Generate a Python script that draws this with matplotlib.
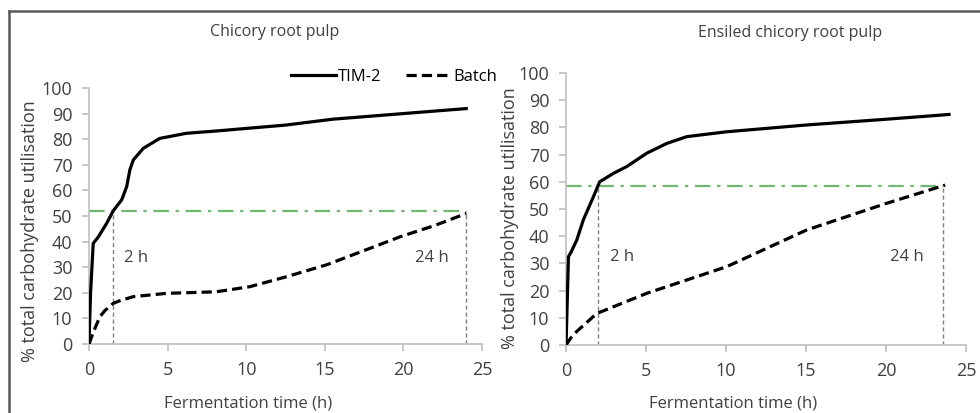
import matplotlib
matplotlib.use("Agg")
import matplotlib.pyplot as plt
from matplotlib.lines import Line2D

plt.rcParams['font.family'] = ['Open Sans', 'DejaVu Sans']

# ---- data ----
left_tim_t = [0, 0.1, 0.27, 0.6, 1.12, 1.55, 2.08, 2.4, 2.6, 2.82, 3.45, 4.5, 6.2, 8.3, 10, 12.5, 15.5, 20.2, 24.1]
left_tim_y = [0, 20, 39.3, 41.9, 47.1, 52.1, 56.3, 61.5, 68, 71.9, 76.4, 80.3, 82.3, 83.3, 84.2, 85.5, 87.8, 90.1, 92.0]
left_batch_t = [0, 0.3, 0.7, 1.0, 1.55, 2.0, 2.82, 4.94, 8.1, 10.24, 12.57, 15.1, 17.5, 19.8, 22, 24.0]
left_batch_y = [0, 5, 10.7, 13, 15.9, 17, 18.5, 19.8, 20.4, 22.4, 26.3, 30.9, 36.5, 41.9, 46.3, 51.0]

right_tim_t = [0, 0.15, 0.3, 0.67, 1.08, 1.71, 2.1, 2.96, 3.79, 5.04, 6.29, 7.54, 10.04, 15.04, 20.0, 24.04]
right_tim_y = [0, 32.5, 34, 38.6, 46, 54.5, 60, 63.1, 65.6, 70.5, 74.1, 76.6, 78.4, 80.9, 83.0, 84.8]
right_batch_t = [0, 0.4, 0.875, 1.92, 5.04, 10.04, 15.04, 20.04, 23.7]
right_batch_y = [0, 3.5, 6.1, 11.6, 19.0, 28.8, 42.3, 52.1, 58.8]

left_ref_level = 52.1
left_ref_times = [1.55, 24.0]
right_ref_level = 58.6
right_ref_times = [2.02, 23.54]
ref_labels = ["2 h", "24 h"]

titles = ["Chicory root pulp", "Ensiled chicory root pulp"]
xlabel = "Fermentation time (h)"
ylabel = "% total carbohydrate utilisation"
series_names = ["TIM-2", "Batch"]

TXT = '#404040'
AX = '#bfbfbf'
GREEN = '#70b870'

fig = plt.figure(figsize=(9.8, 4.13), dpi=100)
axL = fig.add_axes([0.0908, 0.167, 0.401, 0.620])
axR = fig.add_axes([0.5776, 0.1646, 0.4081, 0.6586])

panels = [
    (axL, left_tim_t, left_tim_y, left_batch_t, left_batch_y, left_ref_level, left_ref_times, [(3.0, 33.5), (21.8, 33.5)]),
    (axR, right_tim_t, right_tim_y, right_batch_t, right_batch_y, right_ref_level, right_ref_times, [(3.5, 32.5), (21.3, 32.5)]),
]

for ax, tt, ty, bt, by, lvl, rts, lblpos in panels:
    ax.plot([0, rts[1]], [lvl, lvl], color=GREEN, lw=1.6, ls=(0, (7, 3, 1.5, 3)), zorder=2)
    for rt in rts:
        ax.plot([rt, rt], [0, lvl], color='#808080', lw=1.0, ls=(0, (3, 2)), zorder=2)
    ax.plot(tt, ty, color='black', lw=2.3, solid_capstyle='butt', solid_joinstyle='round', zorder=3)
    ax.plot(bt, by, color='black', lw=2.3, ls=(0, (3.2, 1.6)), zorder=3)
    for (px, py), s in zip(lblpos, ref_labels):
        ax.text(px, py, s, ha='center', va='center', fontsize=12, color=TXT)
    ax.set_xlim(0, 25)
    ax.set_ylim(0, 100)
    ax.set_xticks(range(0, 26, 5))
    ax.set_yticks(range(0, 101, 10))
    for sp in ['top', 'right']:
        ax.spines[sp].set_visible(False)
    for sp in ['left', 'bottom']:
        ax.spines[sp].set_color(AX)
        ax.spines[sp].set_linewidth(1.2)
    ax.tick_params(axis='both', colors=AX, labelcolor=TXT, labelsize=13, length=5, width=1.2)
    ax.tick_params(axis='x', pad=7)
    ax.tick_params(axis='y', pad=7)
    ax.patch.set_visible(False)

fig.text(0.2806, 0.9225, titles[0], ha='center', va='center', fontsize=11.5, color=TXT)
fig.text(0.806, 0.920, titles[1], ha='center', va='center', fontsize=11.5, color=TXT)
fig.text(0.0306, 0.44, ylabel, rotation=90, ha='center', va='center', fontsize=13, color=TXT)
fig.text(0.5204, 0.472, ylabel, rotation=90, ha='center', va='center', fontsize=13, color=TXT)
fig.text(248/980, 0.024, xlabel, ha='center', va='center', fontsize=12, color=TXT)
fig.text(733/980, 0.024, xlabel, ha='center', va='center', fontsize=12, color=TXT)

handles = [Line2D([], [], color='black', lw=2.3),
           Line2D([], [], color='black', lw=2.3, ls=(0, (3.2, 1.6)))]
fig.legend(handles, series_names, loc='center', bbox_to_anchor=(394/980, 1 - 77/413),
           ncol=2, frameon=False, fontsize=12, handlelength=2.7, handletextpad=0.1,
           columnspacing=1.5, labelcolor='black')

# outer frame (top and left edges)
fig.add_artist(Line2D([9/980, 1.0], [1 - 11/413, 1 - 11/413], transform=fig.transFigure, color='#595959', lw=1.8))
fig.add_artist(Line2D([9/980, 9/980], [0, 1 - 11/413], transform=fig.transFigure, color='#595959', lw=1.8))

fig.savefig('out.png', dpi=100, facecolor='white')
